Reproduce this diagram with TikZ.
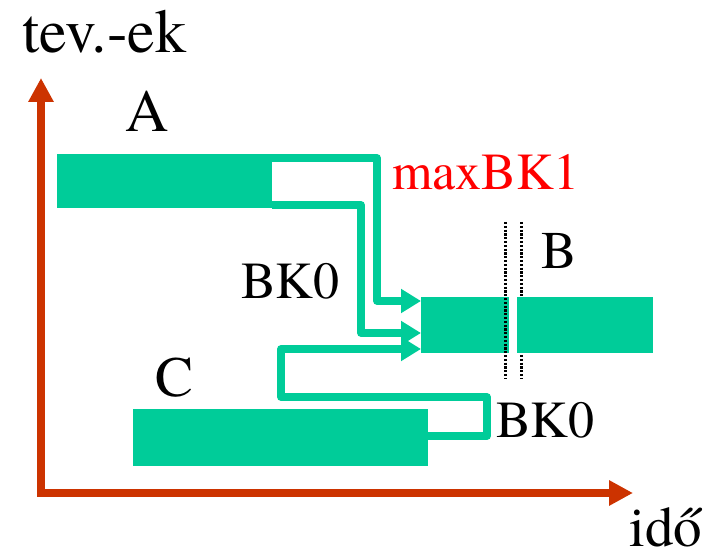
\documentclass[tikz,border=0pt]{standalone}
\usepackage{fontspec}
\setmainfont{texgyretermes-regular.otf}
\usetikzlibrary{arrows.meta}
\definecolor{tealbar}{RGB}{0,204,153}
\definecolor{axisred}{RGB}{204,51,0}
\begin{document}
\begin{tikzpicture}[x=1pt,y=-1pt,
  bar/.style={fill=tealbar,draw=none,inner sep=0pt,outer sep=0pt},
  flow/.style={draw=tealbar,line width=7.5pt,line join=round,-{Triangle[length=20pt,width=23pt]}},
  axis/.style={draw=axisred,line width=8pt,-{Triangle[length=24pt,width=24pt]}},
  lbl/.style={inner sep=0pt,anchor=base west},
  sepline/.style={draw=black,line width=3pt,dash pattern=on 2.2pt off 1.6pt}]
\useasboundingbox (0,0) rectangle (716,553);
% axes
\coordinate (O) at (41,493);
\draw[axis] (41,497) -- (41,78);
\draw[axis] (37,493) -- (633,493);
% separator behind second piece
\draw[sepline] (521,222) -- (521,378);
% bars
\node[bar,minimum width=215pt,minimum height=54pt] (A) at (164.5,181) {};
\node[bar,minimum width=88pt,minimum height=56pt] (B1) at (465,325) {};
\node[bar,minimum width=136pt,minimum height=56pt] (B2) at (585,325) {};
\node[bar,minimum width=295pt,minimum height=57pt] (C) at (280.5,437.5) {};
\draw[sepline] (505,222) -- (505,378);
% flows
\draw[flow] ([yshift=-4pt]A.north east) -- (377,158) -- (377,301) -- ([yshift=24pt]B1.west);
\draw[flow] ([yshift=3pt]A.south east) -- (361,205) -- (361,333) -- ([yshift=-8pt]B1.west);
\draw[flow] ([yshift=1.5pt]C.east) -- (487,436) -- (487,397) -- (281,397) -- (281,349) -- ([yshift=-24pt]B1.west);
% labels
\node[lbl,font=\fontsize{62}{62}\selectfont] (ylab) at (22,53) {tev.-ek};
\node[lbl,font=\fontsize{60}{60}\selectfont] (la) at (125,132) {A};
\node[lbl,font=\fontsize{52}{52}\selectfont,text={rgb,255:red,255;green,0;blue,0}] (lmax) at (392,190) {maxBK1};
\node[lbl,font=\fontsize{52}{52}\selectfont] (lbk0a) at (241,299) {BK0};
\node[lbl,font=\fontsize{53}{53}\selectfont] (lb) at (541,269) {B};
\node[lbl,font=\fontsize{57}{57}\selectfont] (lc) at (155,397) {C};
\node[lbl,font=\fontsize{52}{52}\selectfont] (lbk0b) at (496,438) {BK0};
\node[lbl,font=\fontsize{57}{57}\selectfont] (lx) at (629,547) {idő};
\end{tikzpicture}
\end{document}
